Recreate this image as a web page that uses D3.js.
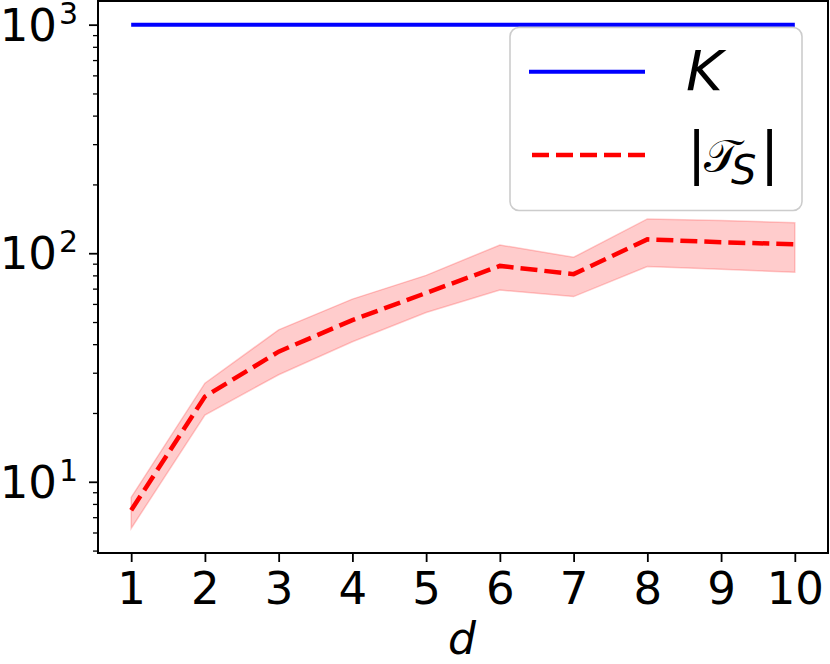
<!DOCTYPE html>
<html>
<head>
<meta charset="utf-8">
<script src="https://cdn.jsdelivr.net/npm/d3@7.9.0/dist/d3.min.js"></script>
<style>
  body { margin: 0; background: #fff; }
  text { font-family: "DejaVu Sans", sans-serif; }
</style>
</head>
<body>
<svg id="chart" width="830" height="664"></svg>
<script>
// values
const dims = [1, 2, 3, 4, 5, 6, 7, 8, 9, 10];
const kValue = [1000, 1000, 1000, 1000, 1000, 1000, 1000, 1000, 1000, 1000];
const tsMean = [7.5, 23.6, 37.1, 51, 67, 88, 81, 115, 111.7, 109.5];
const tsLow = [6.25, 19.6, 29.4, 41, 55, 69, 64.6, 87.4, 85.1, 82.6];
const tsHigh = [8.55, 27, 46.2, 63, 80, 108.7, 96, 141.3, 138.9, 136];
const yTicks = [10, 100, 1000];

const svg = d3.select('#chart');
const plotL = 98, plotR = 828, plotT = 0, plotB = 553;

let x = d3.scaleLinear().domain([0.55, 10.45]).range([plotL, plotR]);
let y = d3.scaleLog().domain([4.88, 1282]).range([plotB, plotT]);

// band
let area = d3.area()
    .x((d, i) => x(dims[i]))
    .y0((d, i) => y(tsLow[i]))
    .y1((d, i) => y(tsHigh[i]));
svg.append('path')
    .attr('d', area(dims))
    .attr('fill', 'red')
    .attr('fill-opacity', 0.2)
    .attr('stroke', 'red')
    .attr('stroke-opacity', 0.2)
    .attr('stroke-width', 1.5);

let line = d3.line().x((d) => x(d[0])).y((d) => y(d[1]));

svg.append('path')
    .attr('d', line(d3.zip(dims, kValue)))
    .attr('fill', 'none')
    .attr('stroke', '#0000ff')
    .attr('stroke-width', 4);

svg.append('path')
    .attr('d', line(d3.zip(dims, tsMean)))
    .attr('fill', 'none')
    .attr('stroke', '#ff0000')
    .attr('stroke-width', 4.5)
    .attr('stroke-dasharray', '17,7');

// axes
let xAxis = d3.axisBottom(x).tickValues(dims).tickSize(9).tickPadding(10).tickFormat(d3.format('d'));
let gx = svg.append('g').attr('transform', `translate(0,${plotB})`).call(xAxis);
gx.select('.domain').remove();
gx.selectAll('.tick line').attr('stroke-width', 1.8);
gx.selectAll('.tick text').attr('font-size', 45).attr('fill', '#000');

let minor = [];
[1, 10, 100].forEach((b) => {
    for (let m = 2; m <= 9; m++) {
        if (b * m >= 4.88 && b * m <= 1282) minor.push(b * m);
    }
});
let gyMinor = svg.append('g').attr('transform', `translate(${plotL},0)`)
    .call(d3.axisLeft(y).tickValues(minor).tickSize(5).tickFormat(''));
gyMinor.select('.domain').remove();
gyMinor.selectAll('.tick line').attr('stroke-width', 1.3);

let gy = svg.append('g').attr('transform', `translate(${plotL},0)`)
    .call(d3.axisLeft(y).tickValues(yTicks).tickSize(9).tickFormat(''));
gy.select('.domain').remove();
gy.selectAll('.tick line').attr('stroke-width', 1.8);

yTicks.forEach((v) => {
    let t = svg.append('text')
        .attr('x', 78)
        .attr('y', y(v) + 16)
        .attr('text-anchor', 'end')
        .attr('font-size', 45)
        .attr('fill', '#000');
    t.append('tspan').text('10');
    t.append('tspan').attr('font-size', 30).attr('dy', -17).attr('dx', 2).text(Math.log10(v));
});

// frame
svg.append('rect')
    .attr('x', plotL).attr('y', plotT + 1)
    .attr('width', plotR - plotL).attr('height', plotB - plotT - 1)
    .attr('fill', 'none').attr('stroke', '#000').attr('stroke-width', 2);

svg.append('text')
    .attr('x', 462).attr('y', 654)
    .attr('text-anchor', 'middle')
    .attr('font-size', 44)
    .attr('font-style', 'italic')
    .text('d');

// legend
let lg = svg.append('g');
lg.append('rect')
    .attr('x', 510).attr('y', 27.5)
    .attr('width', 292).attr('height', 183)
    .attr('rx', 9)
    .attr('fill', '#fff').attr('fill-opacity', 0.8)
    .attr('stroke', '#cccccc').attr('stroke-width', 1.6);
lg.append('line')
    .attr('x1', 529).attr('x2', 645).attr('y1', 71.7).attr('y2', 71.7)
    .attr('stroke', '#0000ff').attr('stroke-width', 4);
lg.append('line')
    .attr('x1', 532).attr('x2', 645).attr('y1', 155).attr('y2', 155)
    .attr('stroke', '#ff0000').attr('stroke-width', 4.5)
    .attr('stroke-dasharray', '17,7');
lg.append('text')
    .attr('x', 686).attr('y', 90)
    .attr('font-size', 56)
    .attr('font-style', 'italic')
    .text('K');
let ts = lg.append('text')
    .attr('x', 687).attr('y', 172)
    .attr('font-size', 57);
ts.append('tspan').text('|');
ts.append('tspan').attr('x', 704).attr('font-size', 46).text('\u{1D4AF}');
ts.append('tspan').attr('x', 731).attr('y', 184).attr('font-style', 'italic').attr('font-size', 40).text('S');
ts.append('tspan').attr('x', 760).attr('y', 172).text('|');
</script>
</body>
</html>
